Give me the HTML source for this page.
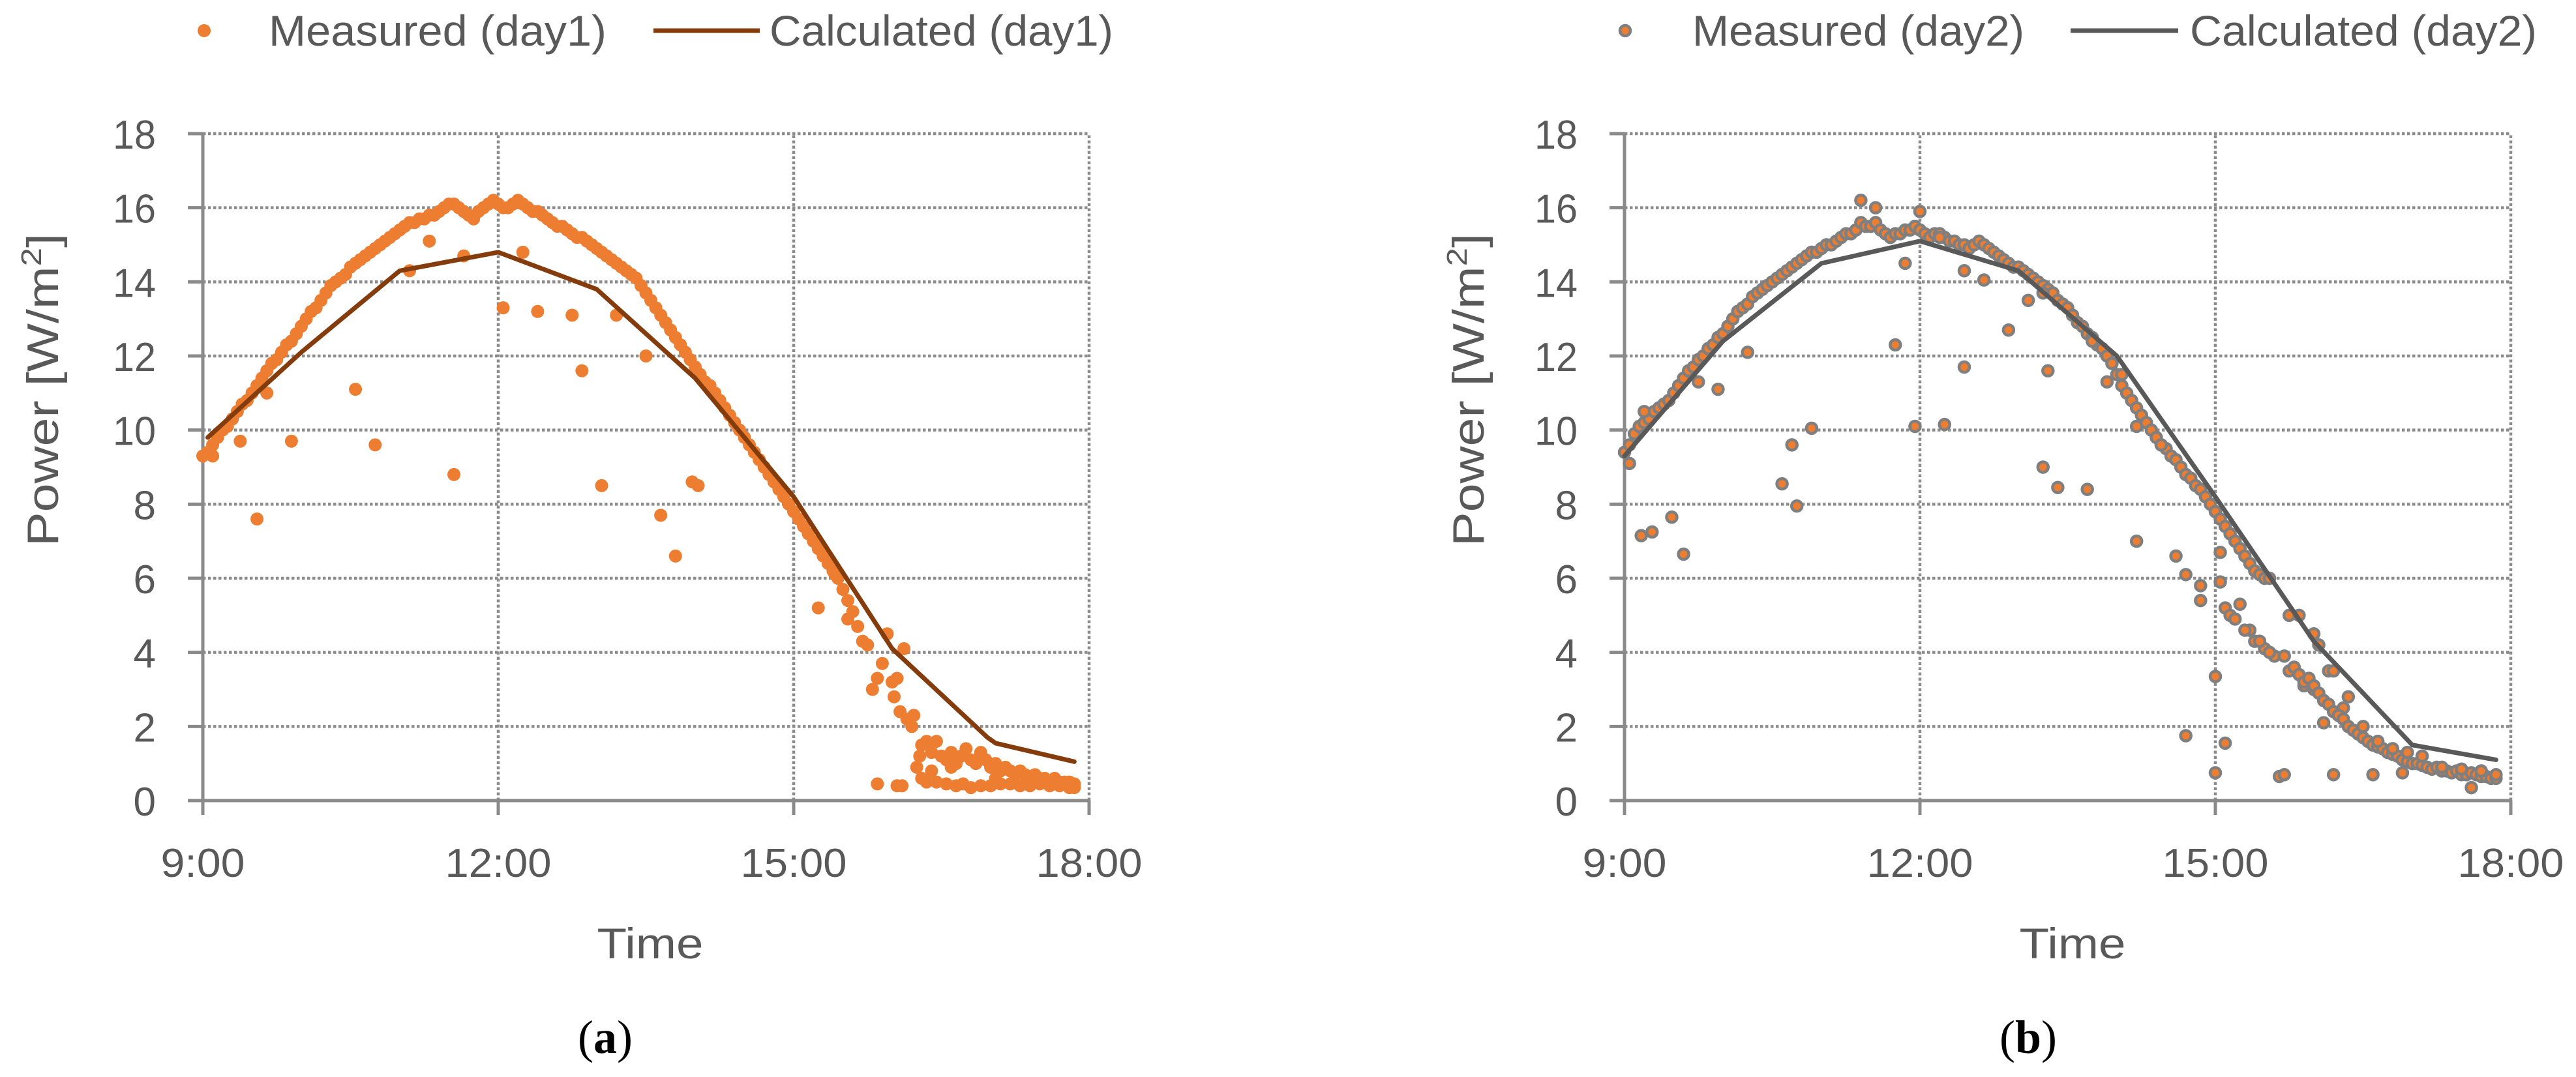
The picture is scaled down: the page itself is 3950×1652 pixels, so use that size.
<!DOCTYPE html>
<html><head><meta charset="utf-8"><style>
html,body{margin:0;padding:0;background:#fff;}
svg{display:block;}
text{font-family:"Liberation Sans",sans-serif;fill:#595959;}
</style></head><body>
<svg id="fig" width="3950" height="1652" viewBox="0 0 3950 1652" xmlns="http://www.w3.org/2000/svg"></svg>
<script>
// ---- Data ----
const yTicks = [0,2,4,6,8,10,12,14,16,18];
const xTicks = [9,12,15,18];
const xTickLabels = ["9:00","12:00","15:00","18:00"];

const calc1T = [9.05,10,11,12,13,14,15,16,16.97,17.05,17.85];
const calc1V = [9.8,12.1,14.3,14.8,13.8,11.4,8.2,4.1,1.7,1.55,1.05];
const calc2T = [9.0,10,11,12,13,14,15,16,17,17.85];
const calc2V = [9.3,12.4,14.5,15.1,14.3,12.0,8.2,4.3,1.5,1.1];

const meas1T = [9.0,9.05,9.1,9.15,9.2,9.25,9.3,9.35,9.4,9.45,9.5,9.55,9.6,9.65,9.7,9.75,9.8,9.85,9.9,9.95,10.0,10.05,10.1,10.15,10.2,10.25,10.3,10.35,10.4,10.45,10.5,10.55,10.6,10.65,10.7,10.75,10.8,10.85,10.9,10.95,11.0,11.05,11.1,11.15,11.2,11.25,11.3,11.35,11.4,11.45,11.5,11.55,11.6,11.65,11.7,11.75,11.8,11.85,11.9,11.95,12.0,12.05,12.1,12.15,12.2,12.25,12.3,12.35,12.4,12.45,12.5,12.55,12.6,12.65,12.7,12.75,12.8,12.85,12.9,12.95,13.0,13.05,13.1,13.15,13.2,13.25,13.3,13.35,13.4,13.45,13.5,13.55,13.6,13.65,13.7,13.75,13.8,13.85,13.9,13.95,14.0,14.05,14.1,14.15,14.2,14.25,14.3,14.35,14.4,14.45,14.5,14.55,14.6,14.65,14.7,14.75,14.8,14.85,14.9,14.95,15.0,15.05,15.1,15.15,15.2,15.25,15.3,15.35,15.4,15.45,15.5,15.55,15.6,15.65,15.7,
 9.1,9.38,9.55,9.65,9.9,10.55,10.75,11.1,11.3,11.55,11.65,12.05,12.25,12.4,12.75,12.85,13.05,13.2,13.5,13.65,13.8,13.97,14.03,15.25,15.3,15.42,15.55,
 15.75,15.8,15.85,15.9,15.95,16.0,16.02,16.05,16.08,16.12,16.15,16.2,16.22,15.85,16.05,16.1,
 16.25,16.28,16.3,16.35,16.4,16.45,16.5,16.55,16.6,16.65,16.7,16.75,16.8,16.85,16.9,16.95,17.0,17.05,17.1,17.15,17.2,17.25,17.3,17.35,17.4,17.45,17.5,17.55,17.6,17.65,17.7,17.75,17.8,17.85,
 16.3,16.35,16.45,16.55,16.65,16.72,16.8,16.9,17.0,17.1,17.2,17.3,17.4,17.5,17.6,17.7,17.8,17.85,16.6,16.4,17.05];
const meas1V = [9.3,9.4,9.6,9.8,10.0,10.1,10.3,10.5,10.7,10.8,11.0,11.2,11.4,11.6,11.8,11.9,12.1,12.3,12.4,12.6,12.8,13.0,13.2,13.3,13.5,13.7,13.9,14.0,14.1,14.2,14.4,14.5,14.6,14.7,14.8,14.9,15.0,15.1,15.2,15.3,15.4,15.5,15.6,15.6,15.7,15.7,15.8,15.8,15.9,16.0,16.1,16.1,16.0,15.9,15.8,15.7,15.9,16.0,16.1,16.2,16.1,16.0,16.0,16.1,16.2,16.1,16.0,15.9,15.9,15.8,15.7,15.6,15.5,15.5,15.4,15.3,15.2,15.2,15.1,15.0,14.9,14.8,14.7,14.6,14.5,14.4,14.3,14.2,14.1,13.9,13.7,13.5,13.3,13.1,12.9,12.7,12.5,12.3,12.1,11.9,11.7,11.5,11.3,11.2,11.0,10.8,10.6,10.4,10.2,10.0,9.8,9.6,9.4,9.2,9.0,8.8,8.6,8.4,8.2,8.0,7.8,7.6,7.4,7.2,7.0,6.8,6.6,6.4,6.2,6.0,5.7,5.4,5.1,4.7,4.3,
 9.3,9.7,7.6,11.0,9.7,11.1,9.6,14.3,15.1,8.8,14.7,13.3,14.8,13.2,13.1,11.6,8.5,13.1,12.0,7.7,6.6,8.6,8.5,5.2,6.7,6.1,4.9,
 4.2,3.0,3.3,3.7,4.5,3.2,2.8,3.3,2.4,4.1,2.2,2.0,2.3,0.45,0.4,0.4,
 0.9,1.2,1.5,1.6,1.3,1.6,1.2,1.1,1.3,1.0,1.2,1.4,1.1,1.0,1.3,1.1,0.9,1.0,0.8,0.9,0.8,0.7,0.8,0.7,0.6,0.7,0.6,0.6,0.5,0.6,0.5,0.5,0.5,0.45,
 0.6,0.5,0.5,0.45,0.4,0.45,0.35,0.4,0.4,0.45,0.45,0.4,0.4,0.45,0.4,0.4,0.35,0.35,0.9,0.8,0.6];

const meas2T = [9.0,9.05,9.1,9.15,9.2,9.25,9.3,9.35,9.4,9.45,9.5,9.55,9.6,9.65,9.7,9.75,9.8,9.85,9.9,9.95,10.0,10.05,10.1,10.15,10.2,10.25,10.3,10.35,10.4,10.45,10.5,10.55,10.6,10.65,10.7,10.75,10.8,10.85,10.9,10.95,11.0,11.05,11.1,11.15,11.2,11.25,11.3,11.35,11.4,11.45,11.5,11.55,11.6,11.65,11.7,11.75,11.8,11.85,11.9,11.95,12.0,12.05,12.1,12.15,12.2,12.25,12.3,12.35,12.4,12.45,12.5,12.55,12.6,12.65,12.7,12.75,12.8,12.85,12.9,12.95,13.0,13.05,13.1,13.15,13.2,13.25,13.3,13.35,13.4,13.45,13.5,13.55,13.6,13.65,13.7,13.75,13.8,13.85,13.9,13.95,14.0,14.05,14.1,14.15,14.2,14.25,14.3,14.35,14.4,14.45,14.5,14.55,14.6,14.65,14.7,14.75,14.8,14.85,14.9,14.95,15.0,15.05,15.1,15.15,15.2,15.25,15.3,15.35,15.4,15.45,15.5,15.55,
 9.05,9.17,9.28,9.48,9.6,9.2,9.75,9.95,10.25,10.6,10.7,10.75,10.9,11.4,11.55,11.75,11.85,11.95,12.0,12.25,12.2,12.45,12.45,12.65,12.9,13.1,13.25,13.3,13.25,13.4,13.7,13.75,13.9,14.05,14.2,14.2,14.45,14.6,14.7,14.7,14.85,14.85,15.0,15.0,15.05,15.05,15.1,15.1,15.15,15.25,15.35,15.4,15.5,15.6,15.65,15.7,15.75,15.9,16.0,16.1,16.15,16.2,16.3,16.6,16.9,17.6,
 15.2,15.3,15.45,15.55,15.7,15.8,15.85,15.9,15.95,16.0,16.05,16.1,16.15,16.2,16.25,16.3,16.35,16.4,16.45,16.5,16.55,16.6,16.65,16.7,16.75,16.8,16.85,16.9,16.95,17.0,17.05,17.1,17.15,17.2,17.25,17.3,17.35,17.4,17.45,17.5,17.55,17.6,17.65,17.7,17.75,17.8,17.85,
 15.75,15.85,16.0,16.05,16.2,16.35,16.5,16.65,16.8,16.95,17.1,17.3,17.5,17.7,17.85];
const meas2V = [9.4,9.6,9.9,10.1,10.2,10.3,10.5,10.6,10.7,10.8,11.0,11.2,11.4,11.6,11.7,11.9,12.0,12.2,12.3,12.5,12.6,12.8,13.0,13.2,13.3,13.4,13.6,13.7,13.8,13.9,14.0,14.1,14.2,14.3,14.4,14.5,14.6,14.7,14.8,14.8,14.9,15.0,15.0,15.1,15.2,15.3,15.3,15.4,15.6,15.5,15.5,15.6,15.4,15.3,15.2,15.3,15.3,15.4,15.4,15.5,15.4,15.3,15.2,15.3,15.3,15.2,15.1,15.1,15.0,15.0,14.9,15.0,15.1,15.0,14.9,14.8,14.7,14.6,14.5,14.4,14.4,14.3,14.2,14.1,14.0,13.9,13.8,13.7,13.5,13.4,13.3,13.1,12.9,12.8,12.6,12.5,12.3,12.2,12.0,11.8,11.5,11.2,11.0,10.8,10.6,10.4,10.2,10.0,9.8,9.6,9.5,9.3,9.2,9.0,8.8,8.7,8.5,8.4,8.2,8.0,7.8,7.6,7.4,7.2,7.0,6.8,6.6,6.4,6.2,6.1,6.0,6.0,
 9.1,7.15,7.25,7.65,6.65,10.5,11.3,11.1,12.1,8.55,9.6,7.95,10.05,16.2,16.0,12.3,14.5,10.1,15.9,10.15,15.2,11.7,14.3,14.05,12.7,13.5,9.0,11.6,13.7,8.45,8.4,12.4,11.3,11.5,10.1,7.0,9.6,6.6,6.1,1.75,5.8,5.4,0.75,3.35,6.7,5.9,1.55,5.2,5.0,5.3,4.6,4.3,4.1,3.9,0.65,0.7,3.5,3.1,3.0,2.1,3.5,0.7,2.5,0.7,0.75,0.35,
 4.9,4.6,4.3,4.0,3.9,3.6,3.4,3.2,3.3,3.1,2.9,2.7,2.6,2.4,2.3,2.2,2.0,1.9,1.8,1.7,1.6,1.5,1.45,1.4,1.3,1.25,1.2,1.1,1.05,1.0,1.0,0.95,0.9,0.85,0.9,0.8,0.8,0.75,0.8,0.7,0.7,0.75,0.7,0.65,0.65,0.6,0.6,
 5.0,5.0,4.5,4.2,3.5,2.8,2.0,1.6,1.4,1.3,1.2,0.9,0.85,0.8,0.7];

// ---- Drawing ----
const NS = "http://www.w3.org/2000/svg";
const svg = document.getElementById("fig");
const Y0 = 1228, H = 1023, W = 1359;
function mk(tag, attrs, parent) {
  const e = document.createElementNS(NS, tag);
  for (const k in attrs) e.setAttribute(k, attrs[k]);
  (parent || svg).appendChild(e);
  return e;
}
function panel(cfg) {
  const x0 = cfg.x0;
  const X = t => x0 + (t - 9) / 9 * W;
  const Y = v => Y0 - v / 18 * H;
  const g = mk("g", {});
  
  
  yTicks.forEach(v => {
    if (v === 0) return;
    const l = mk("line", {x1: x0, x2: x0 + W, y1: Y(v), y2: Y(v), stroke: "#8c8c8c", "stroke-width": 4.5, "stroke-dasharray": "4.5 3.5"}, g);
    
    
  });
  xTicks.forEach(t => {
    if (t === 9) return;
    const l = mk("line", {x1: X(t), x2: X(t), y1: Y0, y2: Y(18), stroke: "#8c8c8c", "stroke-width": 4.5, "stroke-dasharray": "4.5 3.5"}, g);
    
    
  });
  const ya = mk("line", {x1: x0, x2: x0, y1: Y(18), y2: Y0 + 22, stroke: "#8a8a8a", "stroke-width": 5}, g);
  
  
  const xa = mk("line", {x1: x0 - 23, x2: x0 + W, y1: Y0, y2: Y0, stroke: "#8a8a8a", "stroke-width": 5}, g);
  
  
  yTicks.forEach(v => {
    const tk = mk("line", {x1: x0 - 23, x2: x0, y1: Y(v), y2: Y(v), stroke: "#8a8a8a", "stroke-width": 5}, g);
    
    
    const tx = mk("text", {x: x0 - 72, y: Y(v) + 23, "text-anchor": "end", "font-size": 62}, g);
    tx.textContent = String(v);
    
    
    if (String(v).length === 2) { tx.setAttribute('textLength', 66); tx.setAttribute('lengthAdjust', 'spacingAndGlyphs'); }
  });
  xTicks.forEach((t, i) => {
    const tk = mk("line", {x1: X(t), x2: X(t), y1: Y0, y2: Y0 + 22, stroke: "#8a8a8a", "stroke-width": 5}, g);
    
    
    const lab = xTickLabels[i];
    const tx = mk("text", {x: X(t), y: Y0 + 117, "text-anchor": "middle", "font-size": 62, textLength: lab.length === 4 ? 129 : 163, lengthAdjust: "spacingAndGlyphs"}, g);
    tx.textContent = lab;
    
    
  });
  const xt = mk("text", {x: x0 + cfg.timeDx, y: 1470, "text-anchor": "middle", "font-size": 66, textLength: 163, lengthAdjust: "spacingAndGlyphs"}, g);
  xt.textContent = "Time";
  
  
  const yt = mk("text", {transform: "translate(" + cfg.yTitleX + ",598) rotate(-90)", "text-anchor": "middle", "font-size": 68, textLength: 480, lengthAdjust: "spacingAndGlyphs"}, g);
  yt.textContent = "Power [W/m";
  const sup = mk("tspan", {dy: -26, "font-size": 44}, yt);
  sup.textContent = "2";
  const br = mk("tspan", {dy: 26}, yt);
  br.textContent = "]";
  
  
  const pts = cfg.cT.map((t, i) => X(t) + "," + Y(cfg.cV[i])).join(" ");
  const mg = mk("g", {}, g);
  
  
  cfg.mT.forEach((t, i) => {
    const c = mk("circle", {cx: X(t), cy: Y(cfg.mV[i]), r: cfg.r, fill: "#ED7D31"}, mg);
    if (cfg.stroke) { c.setAttribute("stroke", cfg.stroke); c.setAttribute("stroke-width", 4.5); }
    
    
  });
  const pl = mk("polyline", {points: pts, fill: "none", stroke: cfg.lineColor, "stroke-width": 7, "stroke-linejoin": "round", "stroke-linecap": "round"}, g);
  
  
  const lg = mk("g", {}, g);
  
  
  const ld = mk("circle", {cx: cfg.leg[0], cy: 47, r: cfg.r, fill: "#ED7D31"}, lg);
  if (cfg.stroke) { ld.setAttribute("stroke", cfg.stroke); ld.setAttribute("stroke-width", 4.5); }
  
  
  const lt1 = mk("text", {x: cfg.leg[1], y: 70, "font-size": 66, textLength: cfg.leg[2] - cfg.leg[1], lengthAdjust: "spacingAndGlyphs"}, lg);
  lt1.textContent = cfg.mLabel;
  
  
  const ll = mk("line", {x1: cfg.leg[3], x2: cfg.leg[4], y1: 47, y2: 47, stroke: cfg.lineColor, "stroke-width": 7}, lg);
  
  
  const lt2 = mk("text", {x: cfg.leg[5], y: 70, "font-size": 66, textLength: cfg.leg[6] - cfg.leg[5], lengthAdjust: "spacingAndGlyphs"}, lg);
  lt2.textContent = cfg.cLabel;
  
  
  const cap = mk("text", {x: cfg.capX, y: 1615, "text-anchor": "middle", "font-size": 72, style: "font-family:'Liberation Serif',serif;fill:#000"}, g);
  const t1 = mk("tspan", {}, cap); t1.textContent = "(";
  const t2 = mk("tspan", {"font-weight": "bold"}, cap); t2.textContent = cfg.capLetter;
  const t3 = mk("tspan", {}, cap); t3.textContent = ")";
  
  
}
panel({name: "chart-day1", x0: 311, timeDx: 686, yTitleX: 89, cT: calc1T, cV: calc1V, mT: meas1T, mV: meas1V, r: 10, stroke: null, lineColor: "#843C0C",
  leg: [313, 412, 930, 1002, 1165, 1180, 1707], mLabel: "Measured (day1)", cLabel: "Calculated (day1)", capX: 928, capLetter: "a"});
panel({name: "chart-day2", x0: 2491, timeDx: 687, yTitleX: 2275, cT: calc2T, cV: calc2V, mT: meas2T, mV: meas2V, r: 8, stroke: "#7f7f7f", lineColor: "#595959",
  leg: [2492, 2595, 3104, 3175, 3340, 3358, 3890], mLabel: "Measured (day2)", cLabel: "Calculated (day2)", capX: 3110, capLetter: "b"});
</script>
</body></html>
